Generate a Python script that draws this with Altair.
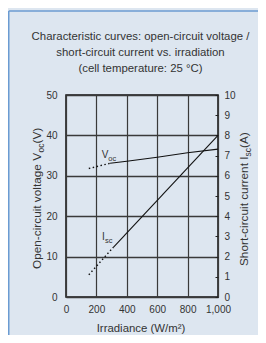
import altair as alt
import pandas as pd

# ---- data ----
voc_dot_g = [150, 290]
voc_dot_v = [31.8, 33.1]
voc_g = [290, 400, 600, 800, 1000]
voc_v = [33.1, 33.6, 34.6, 35.7, 36.6]

isc_dot_g = [150, 310]
isc_dot_a = [1.1, 2.45]
isc_g = [310, 1000]
isc_a = [2.45, 8.0]

x_ticks = [0, 200, 400, 600, 800, 1000]
left_ticks = [0, 10, 20, 30, 40, 50]
right_ticks = list(range(0, 11))

title_lines = [
    "Characteristic curves: open-circuit voltage /",
    "short-circuit current vs. irradiation",
    "(cell temperature: 25 °C)",
]

BG = "#dde6f0"
BORDER = "#6b9bd2"
GRID = "#3a3a3a"
TXT = "#333333"
LFONT = "Liberation Sans, Arial, sans-serif"
W, H = 152, 202

xs = alt.Scale(domain=[0, 1000], nice=False)
ys_left = alt.Scale(domain=[0, 50], nice=False)
ys_right = alt.Scale(domain=[0, 10], nice=False)

common = dict(labelOverlap=False, labelBound=False, labelFlush=False,
              labelFontSize=10, labelColor=TXT, labelFont=LFONT, title=None)
x_axis = alt.Axis(values=x_ticks, format=",.0f", grid=True,
                  gridColor=GRID, gridWidth=1.2, ticks=False, domain=False,
                  labelPadding=7, **common)
left_axis = alt.Axis(values=left_ticks, grid=True, gridColor=GRID,
                     gridWidth=1.3, ticks=False, domain=False, labelPadding=9,
                     **common)
right_axis = alt.Axis(values=right_ticks, grid=False, orient="right",
                      ticks=True, tickSize=3, tickColor="#222", tickWidth=1,
                      offset=-3, domain=False, labelPadding=6, **common)

voc_dot_df = pd.DataFrame({"g": voc_dot_g, "v": voc_dot_v})
voc_df = pd.DataFrame({"g": voc_g, "v": voc_v})
isc_dot_df = pd.DataFrame({"g": isc_dot_g, "a": isc_dot_a})
isc_df = pd.DataFrame({"g": isc_g, "a": isc_a})

X = alt.X("g:Q", scale=xs, axis=x_axis)
YL = alt.Y("v:Q", scale=ys_left, axis=left_axis)
YR = alt.Y("a:Q", scale=ys_right, axis=right_axis)

voc_dot = alt.Chart(voc_dot_df).mark_line(color="#111", strokeWidth=1.4, strokeDash=[1.5, 2.5]).encode(x=X, y=YL)
voc_line = alt.Chart(voc_df).mark_line(color="#111", strokeWidth=1.1).encode(x=X, y=YL)


def txt(s, x, y, size, angle=None, align="left", dy=0):
    kw = dict(fontSize=size, font=LFONT, align=align, baseline="alphabetic",
              color=TXT, dy=dy)
    if angle is not None:
        kw["angle"] = angle
    return alt.Chart(pd.DataFrame({"t": [s]})).mark_text(**kw).encode(
        x=alt.value(x), y=alt.value(y), text="t:N")


TS = 11.4   # title size
AS = 11.8   # axis title size
labels = [
    # curve labels
    txt("V", 35.7, 63, 10),
    txt("oc", 42.3, 65.5, 7.5),
    txt("I", 36.0, 145, 10),
    txt("sc", 39.0, 147.5, 7.5),
    # title
    txt(title_lines[0], 74.5, -55, TS, align="center"),
    txt(title_lines[1], 74.5, -39, TS, align="center"),
    txt(title_lines[2], 74.5, -23, TS, align="center"),
    # x title
    txt("Irradiance (W/m²)", 75, 237, TS, align="center"),
    # left title (rotated, reads bottom-up)
    txt("Open-circuit voltage V", -25, 174, AS, angle=270),
    txt("oc", -25, 57.5, 8.5, angle=270, dy=2.5),
    txt(" (V)", -25, 48.5, AS, angle=270),
    # right title (rotated)
    txt("Short-circuit current I", W + 30, 171, AS, angle=270),
    txt("sc", W + 30, 61.5, 8.5, angle=270, dy=2.5),
    txt(" (A)", W + 30, 53, AS, angle=270),
]

frame_df = pd.DataFrame({"k": [0]})
frame_top = alt.Chart(frame_df).mark_rule(color=BORDER, strokeWidth=1.5).encode(
    x=alt.value(-57.25), x2=alt.value(W + 40), y=alt.value(-84))
frame_left = alt.Chart(frame_df).mark_rule(color=BORDER, strokeWidth=1.5).encode(
    x=alt.value(-57.25), y=alt.value(-84), y2=alt.value(H + 38))

left = alt.layer(voc_dot, voc_line, *labels, frame_top, frame_left)

isc_dot = alt.Chart(isc_dot_df).mark_line(color="#111", strokeWidth=1.4, strokeDash=[1.5, 2.5]).encode(x=X, y=YR)
isc_line = alt.Chart(isc_df).mark_line(color="#111", strokeWidth=1.1).encode(x=X, y=YR)
right = alt.layer(isc_dot, isc_line)

chart = alt.layer(left, right).resolve_scale(y="independent").properties(
    width=W, height=H,
    autosize=alt.AutoSizeParams(type="none"),
    padding={"left": 58, "top": 87, "right": 40, "bottom": 38},
    background=BG,
).configure_view(stroke="#111", strokeWidth=1.5).configure_axis(
    labelOverlap=False, labelBound=False, labelFlush=False)

chart.save("out.html", embed_options={"renderer": "svg", "actions": False})
